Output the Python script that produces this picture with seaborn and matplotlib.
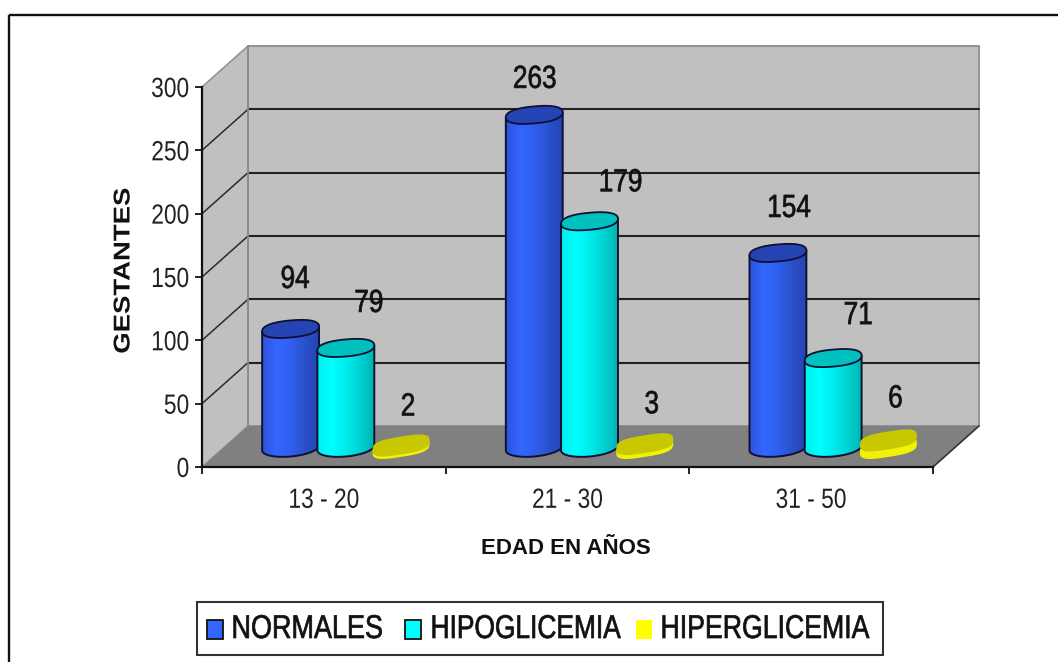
import numpy as np
import pandas as pd
import matplotlib
matplotlib.use("Agg")
import matplotlib.pyplot as plt
from matplotlib.patches import Rectangle, Polygon, PathPatch
from matplotlib.path import Path
from matplotlib.patheffects import AbstractPathEffect
from matplotlib.transforms import Affine2D
from matplotlib.colors import LinearSegmentedColormap
import seaborn as sns

# ---------- data ----------
age_groups = ["13 - 20", "21 - 30", "31 - 50"]
series_names = ["NORMALES", "HIPOGLICEMIA", "HIPERGLICEMIA"]
normales = [94, 263, 154]
hipoglicemia = [79, 179, 71]
hiperglicemia = [2, 3, 6]
y_ticks = [0, 50, 100, 150, 200, 250, 300]

# ---------- layout (pixels) ----------
W, H = 1058, 662
FX0, FX1, FY0, FY1 = 202, 933, 87, 467
DX, DY = 46, 41
SX, SY = 22, 19
BELOW = 14
label_dx = [[4.5, 0.5, 11], [23, 31, 25], [7, 7, 7]]
label_up = [[49, 35, 44], [44, 38, 42], [38, 39, 41]]
legend_swatch_x = [207, 405, 636]
legend_text_x = [231, 430, 660]
legend_squeeze = [0.82, 0.80, 0.81]

sns.set_theme(style="white")
plt.rcParams["font.family"] = ["Liberation Sans", "DejaVu Sans"]


class Squeeze(AbstractPathEffect):
    """Scale the glyphs along the text direction, keeping one end or the middle fixed."""
    def __init__(self, sx, anchor="c", stroke=0.0):
        super().__init__()
        self.sx, self.anchor, self.stroke = sx, anchor, stroke

    def draw_path(self, renderer, gc, tpath, affine, rgbFace=None):
        e = tpath.get_extents()
        a = {"l": e.x0, "c": (e.x0 + e.x1) / 2, "r": e.x1}[self.anchor]
        tr = Affine2D().translate(-a, 0).scale(self.sx, 1).translate(a, 0) + affine
        if self.stroke:
            gc = gc.__class__() if False else gc
            gc.set_linewidth(self.stroke)
            gc.set_foreground(rgbFace)
        renderer.draw_path(gc, tpath, tr, rgbFace)


fig = plt.figure(figsize=(W / 100, H / 100), dpi=100, facecolor="white")

def axes_px(l, t, r, b, **kw):
    return fig.add_axes([l / W, 1 - b / H, (r - l) / W, (b - t) / H], **kw)

bg = axes_px(0, 0, W, H, zorder=0)
bg.set_xlim(0, W); bg.set_ylim(H, 0); bg.axis("off")
GRAY = "#c0c0c0"
# outer frame: open at right and bottom
bg.plot([9, 9], [H + 2, 15], color="#111111", lw=1.7, solid_capstyle="butt")
bg.plot([9, W], [15, 15], color="#111111", lw=1.7, solid_capstyle="butt")
# walls and floor
bg.add_patch(Polygon([(FX0 + DX, FY0 - DY), (FX1 + DX, FY0 - DY), (FX1 + DX, FY1 - DY), (FX0 + DX, FY1 - DY)],
                     fc=GRAY, ec="#8c8c8c", lw=1.3))
bg.add_patch(Polygon([(FX0, FY0), (FX0 + DX, FY0 - DY), (FX0 + DX, FY1 - DY), (FX0, FY1)],
                     fc=GRAY, ec="#8c8c8c", lw=1.0))
bg.add_patch(Polygon([(FX0, FY1), (FX0 + DX, FY1 - DY), (FX1 + DX, FY1 - DY), (FX1, FY1)],
                     fc="#808080", ec="none"))
bg.plot([FX1, FX1 + DX], [FY1, FY1 - DY], color="#333333", lw=1.2)

# main axes: front plane, real scales
ax = axes_px(FX0, FY0, FX1, FY1, zorder=1)
ax.patch.set_alpha(0)
ax.set_xlim(-0.5, 2.5); ax.set_ylim(0, 300)
for s in ["top", "right"]:
    ax.spines[s].set_visible(False)
for s in ["left", "bottom"]:
    ax.spines[s].set_color("#111111"); ax.spines[s].set_linewidth(1.6)
ax.set_yticks(y_ticks)
ax.set_xticks([-0.5, 0.5, 1.5, 2.5], minor=True)
ax.set_xticks([0, 1, 2])
ax.set_xticklabels(age_groups)
ax.tick_params(axis="x", which="major", length=0, pad=15, labelsize=20, labelcolor="#222222")
ax.tick_params(axis="x", which="minor", length=5, width=1.3, color="#111111", bottom=True)
ax.tick_params(axis="y", length=5, width=1.3, color="#111111", left=True, pad=4, labelsize=20, labelcolor="#222222")
for lab in ax.get_xticklabels():
    lab.set_path_effects([Squeeze(0.82, "c")])
for lab in ax.get_yticklabels():
    lab.set_path_effects([Squeeze(0.82, "r")])

# gridlines: tick values through the y scale, with the depth offset
unit = (FY1 - FY0) / 300
for v in y_ticks[1:-1]:
    py = FY1 - v * unit
    bg.plot([FX0, FX0 + DX], [py, py - DY], color="#2a2a2a", lw=1.1)
    bg.plot([FX0 + DX, FX1 + DX], [py - DY, py - DY], color="#222222", lw=1.5)
bg.plot([FX0, FX0 + DX], [FY0, FY0 - DY], color="#9a9a9a", lw=1.0)
bg.plot([FX0 + DX, FX0 + DX], [FY0 - DY, FY1 - DY], color="#8c8c8c", lw=1.3)

# bars: overlay with the same scales, shifted into the depth of the box,
# with a little room below zero for the rounded cylinder bases
bx = axes_px(FX0 + SX, FY0 - SY, FX1 + SX, FY1 - SY + BELOW, zorder=2)
df = pd.DataFrame({
    "edad": age_groups * 3,
    "serie": np.repeat(series_names, 3),
    "valor": normales + hipoglicemia + hiperglicemia,
})
sns.barplot(data=df, x="edad", y="valor", hue="serie", order=age_groups, hue_order=series_names,
            palette=["#3366ff", "#00ffff", "#ffff00"], width=0.68, gap=0, errorbar=None,
            legend=False, ax=bx)
bx.axis("off")
bx.patch.set_alpha(0)

cmaps = {
    0: LinearSegmentedColormap.from_list("b", ["#2f52dc", "#3366ff", "#3060ee", "#2a52cc", "#2444b4"]),
    1: LinearSegmentedColormap.from_list("c", ["#00f0f0", "#00ffff", "#00ecec", "#00d4d4", "#00b4b4"]),
}
tops = {0: "#2444b4", 1: "#00c0c0", 2: "#c8c800"}
EDGE = "#101030"
t = np.linspace(0, 2 * np.pi, 120)

def ellipse_xy(cx, cy, ww, hh, k, blunt=1.0):
    """Sheared (super)ellipse: right end higher than left end by 2k (data units)."""
    c = np.sign(np.cos(t)) * np.abs(np.cos(t)) ** blunt
    s_ = np.sign(np.sin(t)) * np.abs(np.sin(t)) ** blunt
    return np.column_stack([cx + ww / 2 * c, cy + hh / 2 * s_ + k * c])

E_H = 17 / unit
K_CYL = 2.5 / unit
K_FLAT = 4.5 / unit
bars = list(bx.patches)
n = len(age_groups)
for s in range(3):
    for g in range(n):
        p = bars[s * n + g]
        x0, w, h = p.get_x(), p.get_width(), p.get_height()
        p.set_visible(False)
        cx = x0 + w / 2
        ww = w * 1.03
        z = 3 + s
        if s < 2:
            # body outline: top edge, then the lower half of the base ellipse
            low = t[(t >= np.pi) & (t <= 2 * np.pi)]
            bot = np.column_stack([cx + ww / 2 * np.cos(low),
                                   E_H / 2 * np.sin(low) + K_CYL * np.cos(low)])
            right_top = (cx + ww / 2, h + K_CYL)
            left_top = (cx - ww / 2, h - K_CYL)
            outline = np.vstack([[left_top], bot, [right_top], [left_top]])
            body = PathPatch(Path(outline, closed=True), transform=bx.transData, fc="none", ec="none")
            bx.add_patch(body)
            im = bx.imshow(np.linspace(0, 1, 64).reshape(1, -1),
                           extent=(cx - ww / 2, cx + ww / 2, -E_H, h + E_H), origin="lower",
                           aspect="auto", cmap=cmaps[s], zorder=z, interpolation="bilinear")
            im.set_clip_path(body)
            bx.plot(outline[:-1, 0], outline[:-1, 1], color=EDGE, lw=1.4, zorder=z + 0.1,
                    clip_on=False)
            bx.add_patch(Polygon(ellipse_xy(cx, h, ww, E_H, K_CYL, 0.85), fc=tops[s], ec=EDGE, lw=1.3,
                                 zorder=z + 0.2, clip_on=False))
        else:
            bx.add_patch(Polygon(ellipse_xy(cx, 0, ww, E_H * 1.05, K_FLAT, 0.65), fc="#f2f200", ec="none",
                                 zorder=z, clip_on=False))
            bx.add_patch(Polygon(ellipse_xy(cx, h, ww, E_H * 1.05, K_FLAT, 0.65), fc=tops[s], ec="none",
                                 zorder=z + 0.2, clip_on=False))
bx.set_xlim(-0.5, 2.5); bx.set_ylim(-BELOW / unit, 300)

# value labels
all_vals = [normales, hipoglicemia, hiperglicemia]
for s in range(3):
    for g in range(n):
        p = bars[s * n + g]
        cx = p.get_x() + p.get_width() / 2
        v = all_vals[s][g]
        bx.annotate(str(v), (cx, v), xytext=(label_dx[s][g] * 0.72, label_up[s][g] * 0.72),
                    textcoords="offset points", ha="center", va="center", fontsize=23,
                    color="#111111", zorder=10, annotation_clip=False,
                    path_effects=[Squeeze(0.82, "c", 0.5)])

# axis titles
fig.text(123 / W, 1 - 271 / H, "GESTANTES", rotation=90, ha="center", va="center",
         fontsize=16.5, fontweight="bold", color="#111111", path_effects=[Squeeze(1.2, "c")])
fig.text(566 / W, 1 - 548 / H, "EDAD EN AÑOS", ha="center", va="center",
         fontsize=16, fontweight="bold", color="#111111")

# legend box
bg.add_patch(Rectangle((197, 602), 686, 53, fc="white", ec="#333333", lw=1.5))
swatch_fc = ["#3366ff", "#00ffff", "#ffff00"]
swatch_ec = ["#111111", "#111111", "none"]
for name, sx0, tx0, fc, ec, sq in zip(series_names, legend_swatch_x, legend_text_x, swatch_fc, swatch_ec, legend_squeeze):
    bg.add_patch(Rectangle((sx0, 620), 16, 19, fc=fc, ec=ec, lw=1.3))
    bg.text(tx0, 629.5, name, ha="left", va="center", fontsize=23.7, color="#111111",
            path_effects=[Squeeze(sq, "l", 0.5)])

fig.savefig("out.png", dpi=100)
